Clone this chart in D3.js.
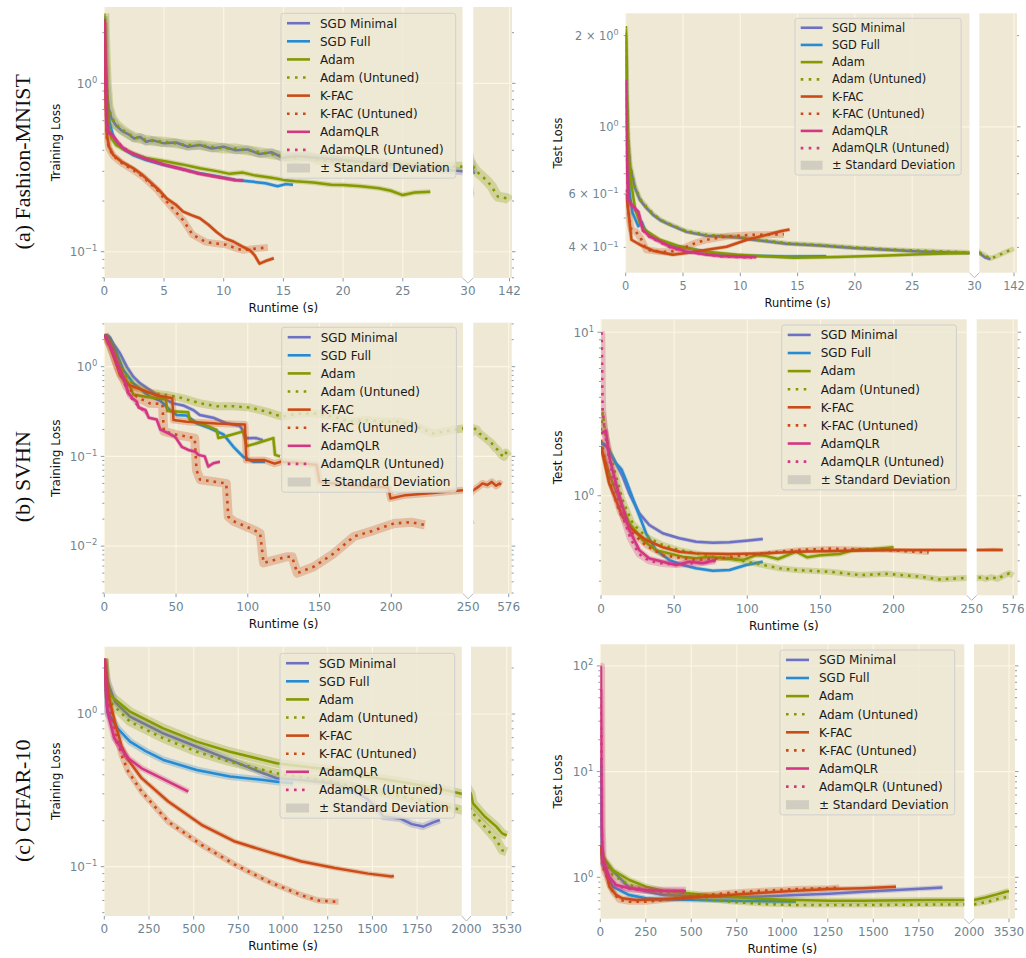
<!DOCTYPE html>
<html>
<head>
<meta charset="utf-8">
<script src="https://cdn.jsdelivr.net/npm/d3@7/dist/d3.min.js"></script>
<style>
body { margin: 0; background: #fff; }
svg { display: block; }
</style>
</head>
<body>
<script>
// legend order, also the order every panel array follows
const methods = ["SGD Minimal", "SGD Full", "Adam", "Adam (Untuned)", "K-FAC", "K-FAC (Untuned)", "AdamQLR", "AdamQLR (Untuned)"];
const methodColors = ["#6C71C4", "#268BD2", "#859900", "#859900", "#CB4B16", "#CB4B16", "#D33682", "#D33682"];
const methodDotted = [false, false, false, true, false, true, false, true];

const rowLabels = ["(a) Fashion-MNIST", "(b) SVHN", "(c) CIFAR-10"];

// x ticks: main part, then [break value, last value]
const fmnistXTicks = [0, 5, 10, 15, 20, 25];
const fmnistXBreak = [30, 142];
const svhnXTicks = [0, 50, 100, 150, 200];
const svhnXBreak = [250, 576];
const cifarXTicks = [0, 250, 500, 750, 1000, 1250, 1500, 1750];
const cifarXBreak = [2000, 3530];
const fmnistTestYTicks = [0.4, 0.6, 1, 2];

// [runtime (s), loss] per method
const fmnistTrain = [
  [[0,2.5],[0.1,1.4],[0.2,0.95],[0.35,0.72],[0.6,0.62],[1,0.56],[1.5,0.52],[2,0.5],[2.5,0.47],[3,0.48],[3.5,0.45],[4,0.46],[5,0.44],[6,0.445],[7,0.42],[8,0.43],[9,0.41],[10,0.42],[11,0.4],[12,0.405],[13,0.38],[14,0.39],[15,0.36],[16,0.37],[18,0.36],[20,0.35],[22,0.34],[24,0.33],[26,0.32],[28,0.31],[30,0.3],[33,0.29]],
  [[0,2.4],[0.1,1.3],[0.25,0.75],[0.4,0.6],[0.7,0.5],[1,0.45],[1.5,0.41],[2.4,0.375],[3.5,0.35],[5,0.327],[6.5,0.31],[8,0.292],[9.5,0.28],[11,0.267],[12.5,0.26],[13.5,0.255],[14.5,0.245],[15.2,0.252],[15.8,0.25]],
  [[0,2.5],[0.1,1.2],[0.2,0.75],[0.35,0.55],[0.6,0.47],[1,0.43],[1.5,0.41],[2.4,0.384],[3.5,0.36],[5.2,0.343],[6.5,0.33],[8,0.313],[9.5,0.3],[10.5,0.29],[11.6,0.295],[12.5,0.285],[14,0.275],[15,0.267],[16,0.262],[17.5,0.258],[19,0.25],[20,0.249],[21.5,0.245],[23,0.238],[24,0.23],[25,0.217],[26,0.225],[27.3,0.227]],
  [[0,2.6],[0.1,1.5],[0.2,1],[0.35,0.73],[0.6,0.63],[1,0.57],[1.5,0.53],[2,0.5],[2.5,0.48],[3,0.47],[4,0.455],[5,0.45],[6,0.44],[7,0.43],[8,0.43],[9,0.42],[10,0.41],[11,0.41],[12,0.4],[13,0.39],[14,0.38],[15,0.37],[16,0.36],[17,0.37],[18,0.35],[20,0.345],[22,0.34],[24,0.33],[26,0.33],[28,0.32],[30,0.32],[40,0.3],[59,0.279],[75,0.26],[88,0.243],[100,0.22],[107,0.212],[120,0.21],[136,0.207],[142,0.2]],
  [[0,2.3],[0.1,0.9],[0.2,0.5],[0.4,0.42],[0.76,0.375],[1.5,0.34],[2.43,0.313],[3.2,0.285],[3.83,0.26],[4.5,0.235],[5.23,0.207],[6,0.19],[6.6,0.173],[7.3,0.165],[8,0.158],[8.7,0.145],[9.4,0.131],[10.1,0.12],[10.8,0.115],[11.5,0.108],[12.2,0.102],[12.6,0.095],[13,0.085],[13.5,0.088],[14.2,0.0915]],
  [[0,2.3],[0.1,0.85],[0.2,0.48],[0.4,0.41],[0.76,0.37],[1.5,0.335],[2.43,0.305],[3.2,0.28],[3.83,0.255],[4.5,0.23],[5.23,0.198],[5.9,0.175],[6.6,0.154],[7.4,0.126],[8.5,0.114],[9.3,0.112],[10.2,0.11],[11,0.105],[11.6,0.102],[12.5,0.104],[13.7,0.106]],
  [[0,2.4],[0.1,1.1],[0.2,0.6],[0.3,0.52],[0.6,0.5],[0.9,0.47],[1.3,0.43],[1.8,0.4],[2.4,0.384],[3.5,0.355],[5,0.33],[6.5,0.31],[8,0.29],[9.5,0.278],[10.8,0.267],[11.65,0.265]],
  [[0,2.4],[0.1,1],[0.2,0.58],[0.3,0.51],[0.6,0.49],[1,0.46],[1.5,0.42],[2.4,0.38],[5,0.328],[8,0.29],[11,0.266]]
];

const fmnistTest = [
  [[0,2],[0.1,1.2],[0.2,0.9],[0.38,0.74],[0.8,0.63],[1.25,0.574],[1.8,0.54],[2.4,0.512],[3.1,0.49],[3.87,0.475],[5.32,0.45],[7.07,0.437],[9.7,0.432],[11.1,0.424],[14.05,0.411],[16.95,0.406],[19.9,0.398],[22.8,0.393],[25.7,0.388],[30,0.383],[50,0.37],[66,0.366]],
  [[0,2.05],[0.1,1.1],[0.2,0.75],[0.35,0.6],[0.6,0.52],[1.1,0.47],[1.4,0.485],[1.7,0.455],[2.4,0.435],[3.5,0.41],[5.3,0.398],[8.2,0.38],[11.1,0.375],[14,0.373],[17.5,0.374]],
  [[0,2.1],[0.1,1.3],[0.2,0.9],[0.38,0.685],[0.84,0.532],[1.25,0.481],[1.83,0.452],[3,0.424],[4.7,0.403],[6.8,0.388],[9.7,0.378],[12.6,0.373],[14.6,0.37],[18.4,0.372],[22.8,0.376],[25.7,0.38],[28,0.382],[30,0.383]],
  [[0,2.15],[0.1,1.25],[0.2,0.92],[0.38,0.75],[0.8,0.635],[1.25,0.578],[1.8,0.545],[2.4,0.515],[3.1,0.492],[3.87,0.477],[5.32,0.452],[7.07,0.44],[9.7,0.433],[11.1,0.426],[14.05,0.413],[16.95,0.407],[19.9,0.4],[22.8,0.394],[25.7,0.39],[30,0.385],[45,0.378],[60,0.37],[67,0.368],[80,0.372],[100,0.38],[120,0.388],[142,0.396]],
  [[0.05,0.6],[0.25,0.52],[0.5,0.424],[1.25,0.408],[2.4,0.39],[4.1,0.378],[5.3,0.383],[7.1,0.393],[8.8,0.402],[10.6,0.424],[12.3,0.44],[13.5,0.452],[14.3,0.458]],
  [[0.05,0.62],[0.3,0.5],[0.5,0.457],[0.9,0.45],[1.3,0.43],[1.8,0.393],[2.8,0.388],[3.9,0.386],[5.3,0.402],[6.2,0.415],[7.1,0.424],[8.8,0.435],[11.1,0.44],[13.8,0.442]],
  [[0,1.43],[0.1,0.8],[0.2,0.574],[0.67,0.545],[1.1,0.525],[1.5,0.457],[2.1,0.435],[3.9,0.402],[5.3,0.388],[6.8,0.38],[8.2,0.375],[11.4,0.371]],
  [[0,1.4],[0.1,0.78],[0.2,0.57],[0.67,0.54],[1.1,0.52],[1.5,0.455],[2.1,0.433],[3.9,0.4],[5.3,0.387],[8.2,0.374],[11,0.37]]
];

const svhnTrain = [
  [[0,2.26],[3,2.2],[6.3,1.8],[10.9,1.41],[15.6,1],[20.2,0.774],[24.9,0.653],[31.8,0.55],[37,0.48],[43.4,0.425],[48,0.39],[55,0.37],[62,0.328],[66.5,0.29],[75.8,0.27],[85,0.234],[94.4,0.22],[96,0.2],[98.9,0.159],[105.9,0.16],[110.5,0.152]],
  [[0,2.26],[4,2.1],[8.6,1.41],[13.3,0.918],[20.2,0.653],[31.8,0.463],[38.8,0.42],[45.8,0.328],[50.4,0.29],[57.4,0.285],[64.4,0.234],[73.7,0.205],[83,0.176],[90,0.128],[96.9,0.099],[104,0.087],[112,0.087]],
  [[0,2.25],[4,1.8],[8,1.2],[13.2,0.8],[17.9,0.6],[20.2,0.49],[30,0.46],[38.8,0.445],[43,0.43],[44,0.32],[58.5,0.31],[59.7,0.25],[70,0.225],[78.3,0.197],[79.5,0.16],[85,0.168],[96.9,0.19],[99.2,0.13],[106.2,0.14],[117.8,0.16],[119,0.104],[122.5,0.1]],
  [[0,2.26],[5,1.7],[10,1.15],[15,0.82],[20,0.63],[30,0.52],[40,0.49],[43.5,0.484],[55,0.444],[66.8,0.39],[78.4,0.362],[90,0.362],[101.6,0.35],[113,0.315],[120,0.29],[124.8,0.277],[130,0.29],[136.4,0.3],[148,0.3],[159.6,0.277],[171,0.244],[182.8,0.254],[194,0.244],[206,0.244],[217.6,0.215],[229,0.18],[241,0.195],[250,0.205],[280,0.2],[307,0.18],[335,0.17],[363,0.159],[390,0.15],[420,0.14],[450,0.125],[477,0.118],[505,0.105],[533,0.099],[550,0.11],[562,0.105],[576,0.1]],
  [[0,2.25],[4,1.7],[8,1.1],[11,0.8],[15.8,0.64],[25,0.56],[36.3,0.48],[47.4,0.444],[48.2,0.254],[57.4,0.244],[78.4,0.232],[98,0.226],[99,0.091],[111.7,0.091],[118.7,0.083],[123,0.087],[135,0.085],[148,0.08],[150,0.052],[170,0.048],[198,0.045],[199.5,0.034],[210,0.037],[229,0.039],[250,0.042],[300,0.046],[335,0.05],[380,0.048],[420,0.052],[460,0.047],[491,0.05],[505,0.048]],
  [[0,2.25],[3,1.9],[6.3,1.41],[10,0.95],[15.8,0.6],[22.7,0.46],[31.8,0.39],[40.5,0.385],[41.5,0.19],[50,0.175],[63,0.16],[64.3,0.07],[66.8,0.055],[85,0.05],[86.4,0.0213],[90,0.019],[104,0.0152],[108.6,0.0139],[111,0.0065],[127,0.0076],[130.9,0.0076],[134.5,0.005],[146,0.0059],[160,0.0083],[174,0.0128],[188,0.015],[202,0.0179],[214,0.0185],[223.5,0.0172]],
  [[0,2.26],[5,1.6],[10,1],[14,0.7],[17,0.5],[20,0.44],[22.5,0.41],[24,0.35],[28.6,0.33],[31,0.27],[36.5,0.258],[39,0.2],[44.8,0.18],[49.4,0.165],[54,0.128],[58.6,0.118],[63.3,0.113],[65.6,0.104],[70,0.1],[72.5,0.077],[76,0.084],[80.6,0.087]],
  [[0,2.26],[5,1.55],[10,0.95],[14,0.68],[17,0.48],[20,0.43],[24,0.36],[30,0.3]]
];

const svhnTest = [
  [[0,2.1],[1.1,2.09],[4,2],[7.9,1.73],[14.8,1.31],[19.4,1.03],[26.2,0.78],[33,0.662],[42.2,0.589],[53.6,0.549],[65,0.523],[76.4,0.515],[87.8,0.52],[99.2,0.53],[110.6,0.543]],
  [[0,2.1],[4,2],[10.2,1.58],[12.5,1.5],[14,1.45],[17,1.25],[23.9,0.856],[30.8,0.589],[37.6,0.465],[46.7,0.404],[55.8,0.377],[65,0.36],[76.4,0.348],[87.8,0.351],[99.2,0.377],[110.6,0.395]],
  [[0,2],[5.6,1.37],[12.5,0.94],[19.4,0.678],[28.5,0.536],[37.6,0.465],[46.7,0.444],[55.8,0.424],[65,0.415],[74,0.424],[83.2,0.415],[96.9,0.404],[106,0.433],[112,0.43],[121,0.41],[133.4,0.455],[141,0.42],[149.8,0.433],[163,0.44],[172.6,0.465],[185,0.47],[200,0.484]],
  [[0,2.5],[1.2,3.2],[3,2.4],[7.9,1.58],[14.8,0.94],[21.6,0.678],[30.8,0.561],[42.2,0.5],[53.6,0.465],[65,0.444],[76.4,0.424],[87.8,0.415],[99.2,0.395],[110.6,0.377],[122,0.36],[133.4,0.351],[156.2,0.343],[177,0.327],[195,0.333],[218,0.32],[231.6,0.308],[250,0.314],[290,0.316],[330,0.31],[380,0.318],[435,0.31],[490,0.325],[541,0.335],[576,0.325]],
  [[0,2],[5.6,1.19],[10.2,0.94],[14.8,0.744],[21.6,0.617],[30.8,0.536],[42.2,0.484],[53.6,0.454],[65,0.444],[87.8,0.44],[110.6,0.444],[133.4,0.454],[179,0.463],[202,0.465],[250,0.466],[300,0.466],[400,0.467],[483,0.466]],
  [[0,2.2],[5.6,1.25],[12.5,0.8],[19.4,0.617],[30.8,0.494],[42.2,0.433],[55.8,0.415],[65,0.404],[83.2,0.415],[96.9,0.433],[110.6,0.444],[133.4,0.465],[156,0.475],[172.6,0.472],[195,0.465],[224,0.45]],
  [[0,2.4],[3.4,2.5],[5.6,1.73],[10.2,1.19],[14.8,0.856],[19.4,0.617],[26.2,0.465],[33,0.414],[42.2,0.395],[51.3,0.377],[60.4,0.395],[69.5,0.386],[78.6,0.404]],
  [[0,10],[0.5,9.8],[1.1,3.35],[2.5,2.5],[5,1.8],[10,1.1],[15,0.75],[20,0.55],[26,0.44],[33,0.4],[42,0.385],[51,0.38],[60,0.385],[70,0.39],[78,0.4]]
];

const cifarTrain = [
  [[0,2.3],[20,1.6],[60,1.2],[144,0.96],[330,0.747],[517,0.61],[703,0.5],[890,0.409],[964,0.38],[1100,0.37],[1281,0.352],[1400,0.31],[1467,0.28],[1530,0.24],[1560,0.213],[1654,0.207],[1720,0.19],[1784,0.183],[1840,0.195],[1877,0.202]],
  [[0,2.2],[10,1.3],[18,1.03],[74,0.806],[144,0.659],[237,0.566],[330,0.5],[517,0.43],[703,0.389],[890,0.37],[964,0.36],[1057,0.352]],
  [[0,2.3],[4,1.71],[32,1.33],[144,1.035],[330,0.806],[517,0.659],[703,0.566],[890,0.5],[964,0.476],[1100,0.455],[1281,0.43],[1467,0.39],[1654,0.36],[1840,0.33],[2000,0.3],[2087,0.26],[2587,0.213],[3088,0.183],[3339,0.165],[3530,0.16]],
  [[0,2.3],[4,1.62],[32,1.2],[144,0.89],[330,0.693],[517,0.566],[703,0.487],[890,0.43],[964,0.409],[1281,0.36],[1467,0.32],[1654,0.29],[1840,0.26],[2000,0.235],[2087,0.223],[2587,0.183],[3088,0.15],[3339,0.128],[3530,0.125]],
  [[0,2.3],[22,1.33],[59,0.89],[96,0.62],[134,0.5],[209,0.38],[358,0.267],[544,0.188],[731,0.146],[917,0.125],[1104,0.108],[1290,0.098],[1476,0.09],[1607,0.0862],[1620,0.087]],
  [[0,2.3],[22,1.25],[59,0.806],[96,0.539],[134,0.42],[209,0.31],[358,0.197],[544,0.139],[731,0.103],[917,0.08],[1104,0.065],[1200,0.06],[1290,0.059],[1310,0.059]],
  [[0,2.3],[4,1.71],[18,1.03],[56,0.693],[134,0.513],[209,0.441],[302,0.389],[395,0.343],[470,0.31]],
  [[0,2.3],[10,1.4],[30,0.95],[60,0.68],[100,0.56],[134,0.51]]
];

const cifarTest = [
  [[0,2],[13,1.55],[68,1.15],[159,0.8],[343,0.68],[526,0.665],[709,0.647],[892,0.66],[1075,0.68],[1258,0.7],[1442,0.73],[1625,0.76],[1808,0.787],[1880,0.8]],
  [[0,13.4],[4,5],[8,2],[13,1.35],[68,0.815],[159,0.68],[251,0.633],[343,0.62],[526,0.61],[709,0.6],[892,0.595],[1075,0.59]],
  [[0,2],[13,1.57],[68,1.17],[159,0.943],[251,0.815],[343,0.747],[526,0.695],[709,0.655],[892,0.623],[1075,0.61],[1258,0.6],[1442,0.6],[1808,0.61],[2000,0.61],[2500,0.645],[3000,0.69],[3381,0.73],[3530,0.74]],
  [[0,2],[13,1.5],[68,1.05],[159,0.846],[251,0.758],[343,0.706],[526,0.633],[709,0.588],[892,0.56],[1075,0.547],[1442,0.547],[2000,0.555],[2500,0.58],[3000,0.62],[3381,0.647],[3530,0.65]],
  [[0,2],[13,1.57],[50,0.815],[87,0.68],[123,0.633],[196,0.61],[343,0.62],[526,0.647],[709,0.68],[892,0.715],[1075,0.747],[1258,0.775],[1442,0.79],[1625,0.815]],
  [[0,2],[20,1.17],[68,0.73],[105,0.61],[159,0.588],[251,0.588],[343,0.61],[526,0.665],[709,0.715],[892,0.747],[1075,0.775],[1258,0.79],[1313,0.8]],
  [[0,98],[4,98],[6,10],[8,3],[13,1.46],[50,1.01],[87,0.846],[159,0.787],[251,0.758],[343,0.747],[471,0.747]],
  [[0,60],[5,20],[8,3],[13,1.4],[50,0.98],[87,0.83],[159,0.78],[251,0.75],[343,0.74],[460,0.74]]
];

const bgColor = "#EEE8D5";
const gridColor = "#FDF6E3";
const tickColor = "#6f8490";

let svg = d3.select("body").append("svg")
    .attr("width", 1026)
    .attr("height", 958)
    .style("font-family", "'DejaVu Sans', sans-serif");
let defs = svg.append("defs");

// band: width of the ± std deviation halo for each method (pixels)
let panels = [
    {id: "p1", data: fmnistTrain, ticks: fmnistXTicks, brk: fmnistXBreak, ylabel: "Training Loss", yDomain: [0.0698, 2.84],
     box: {left: 104.3, mainRight: 462.5, segLeft: 473.3, right: 512, top: 7, bottom: 278, endPad: 2.5},
     legend: [281, 13.3], fs: 1, ylx: 59.5, band: [8, 4, 5, 10, 4, 7, 4, 4]},
    {id: "p2", data: fmnistTest, ticks: fmnistXTicks, brk: fmnistXBreak, ylabel: "Test Loss", yDomain: [0.33, 2.37], yTicks: fmnistTestYTicks,
     box: {left: 625.7, mainRight: 969.5, segLeft: 979.3, right: 1017, top: 13.3, bottom: 272.7, endPad: 3},
     legend: [795, 18.3], fs: 0.95, ylx: 562, band: [4, 4, 4, 5, 4, 7, 4, 4]},
    {id: "p3", data: svhnTrain, ticks: svhnXTicks, brk: svhnXBreak, ylabel: "Training Loss", yDomain: [0.00295, 3.09],
     box: {left: 104.3, mainRight: 463, segLeft: 473.3, right: 511.7, top: 322.7, bottom: 593.7, endPad: 3},
     legend: [281.7, 327.3], fs: 1, ylx: 59.5, band: [4, 4, 4, 8, 7, 9, 4, 4]},
    {id: "p4", data: svhnTest, ticks: svhnXTicks, brk: svhnXBreak, ylabel: "Test Loss", yDomain: [0.246, 12],
     box: {left: 601, mainRight: 966.7, segLeft: 976.7, right: 1017.7, top: 319.3, bottom: 595.3, endPad: 4.5},
     legend: [781.7, 325], fs: 1, ylx: 562, band: [4, 4, 5, 6, 4, 5, 5, 7]},
    {id: "p5", data: cifarTrain, ticks: cifarXTicks, brk: cifarXBreak, ylabel: "Training Loss", yDomain: [0.0475, 2.76],
     box: {left: 104.3, mainRight: 461.8, segLeft: 471, right: 511.7, top: 646.7, bottom: 916, endPad: 5},
     legend: [280, 653.3], fs: 1, ylx: 59.5, band: [7, 7, 9, 9, 5, 6, 6, 5]},
    {id: "p6", data: cifarTest, ticks: cifarXTicks, brk: cifarXBreak, ylabel: "Test Loss", yDomain: [0.406, 160],
     box: {left: 600.3, mainRight: 964.3, segLeft: 974, right: 1015, top: 644.3, bottom: 918.7, endPad: 6},
     legend: [780, 650], fs: 1, ylx: 562, band: [5, 5, 6, 5, 5, 6, 8, 6]}
];

// "10^e" or "m × 10^e" as a text with a raised exponent
function powLabel(g, v, x, y, size) {
    let e = Math.floor(Math.log10(v) + 1e-9);
    let m = Math.round(v / Math.pow(10, e));
    let t = g.append("text")
        .attr("x", x).attr("y", y + size * 0.36)
        .attr("text-anchor", "end")
        .attr("fill", tickColor)
        .attr("font-size", size);
    t.append("tspan").text(m === 1 ? "10" : m + " \u00d7 10");
    t.append("tspan").attr("dy", -size * 0.42).attr("font-size", size * 0.7)
        .text(e < 0 ? "\u2212" + (-e) : String(e));
}

function drawPanel(p) {
    let b = p.box;
    let g = svg.append("g");
    let fs = 12 * p.fs;

    let xMain = d3.scaleLinear().domain([0, p.brk[0]]).range([b.left, b.mainRight]);
    let xSeg = d3.scaleLinear().domain(p.brk).range([b.segLeft, b.right - b.endPad]);
    let y = d3.scaleLog().domain(p.yDomain).range([b.bottom, b.top]);

    // two backgrounds with the white break between them
    [[b.left, b.mainRight], [b.segLeft, b.right]].forEach(function(r){
        g.append("rect").attr("x", r[0]).attr("y", b.top)
            .attr("width", r[1] - r[0]).attr("height", b.bottom - b.top)
            .attr("fill", bgColor);
    });

    // major / minor log ticks
    let lo = Math.floor(Math.log10(p.yDomain[0])), hi = Math.ceil(Math.log10(p.yDomain[1]));
    let majors = [], minors = [];
    for (let e = lo; e <= hi; e++) {
        for (let m = 1; m < 10; m++) {
            let v = m * Math.pow(10, e);
            if (v < p.yDomain[0] || v > p.yDomain[1]) continue;
            if (m === 1) majors.push(v); else minors.push(v);
        }
    }

    // grid
    majors.forEach(function(v){
        [[b.left, b.mainRight], [b.segLeft, b.right]].forEach(function(r){
            g.append("line").attr("x1", r[0]).attr("x2", r[1])
                .attr("y1", y(v)).attr("y2", y(v))
                .attr("stroke", gridColor).attr("stroke-width", 1.1);
        });
    });
    p.ticks.forEach(function(t){
        g.append("line").attr("x1", xMain(t)).attr("x2", xMain(t))
            .attr("y1", b.top).attr("y2", b.bottom)
            .attr("stroke", gridColor).attr("stroke-width", 1.1);
    });
    g.append("line").attr("x1", xSeg(p.brk[1])).attr("x2", xSeg(p.brk[1]))
        .attr("y1", b.top).attr("y2", b.bottom)
        .attr("stroke", gridColor).attr("stroke-width", 1.1);

    // clip paths for the two parts of the x axis
    let parts = [[xMain, b.left, b.mainRight], [xSeg, b.segLeft, b.right]];
    parts.forEach(function(part, k){
        defs.append("clipPath").attr("id", p.id + "c" + k)
            .append("rect").attr("x", part[1]).attr("y", b.top)
            .attr("width", part[2] - part[1]).attr("height", b.bottom - b.top);
    });

    parts.forEach(function(part, k){
        let layer = g.append("g").attr("clip-path", "url(#" + p.id + "c" + k + ")");
        let line = d3.line().x((d)=>part[0](d[0])).y((d)=>y(d[1]));
        p.data.forEach(function(pts, i){
            // ± standard deviation band
            layer.append("path").attr("d", line(pts))
                .attr("fill", "none")
                .attr("stroke", methodColors[i])
                .attr("stroke-opacity", 0.28)
                .attr("stroke-width", p.band[i])
                .attr("stroke-linejoin", "round");
            layer.append("path").attr("d", line(pts))
                .attr("fill", "none")
                .attr("stroke", methodColors[i])
                .attr("stroke-width", methodDotted[i] ? 2.6 : 2.5)
                .attr("stroke-dasharray", methodDotted[i] ? "2.6,5" : null)
                .attr("stroke-linejoin", "round");
        });
    });

    // y ticks on left of main part and right of the last part
    let labelled = p.yTicks || majors;
    majors.concat(minors).forEach(function(v){
        let len = majors.indexOf(v) >= 0 ? 3.5 : 2;
        g.append("line").attr("x1", b.left - len).attr("x2", b.left)
            .attr("y1", y(v)).attr("y2", y(v))
            .attr("stroke", tickColor).attr("stroke-width", 0.8);
        g.append("line").attr("x1", b.right).attr("x2", b.right + len)
            .attr("y1", y(v)).attr("y2", y(v))
            .attr("stroke", tickColor).attr("stroke-width", 0.8);
    });
    labelled.forEach(function(v){
        powLabel(g, v, b.left - 7, y(v), fs);
    });

    // x ticks
    function xTick(px, label) {
        g.append("line").attr("x1", px).attr("x2", px)
            .attr("y1", b.bottom).attr("y2", b.bottom + 3.5)
            .attr("stroke", tickColor).attr("stroke-width", 0.8);
        g.append("text").attr("x", px).attr("y", b.bottom + 13 + fs * 0.36)
            .attr("text-anchor", "middle").attr("fill", tickColor)
            .attr("font-size", fs).text(label);
    }
    p.ticks.forEach((t)=>xTick(xMain(t), t));
    let gapMid = (b.mainRight + b.segLeft) / 2;
    g.append("text").attr("x", gapMid).attr("y", b.bottom + 13 + fs * 0.36)
        .attr("text-anchor", "middle").attr("fill", tickColor)
        .attr("font-size", fs).text(p.brk[0]);
    xTick(xSeg(p.brk[1]), p.brk[1]);

    // break mark
    g.append("path")
        .attr("d", `M${b.mainRight},${b.bottom} L${gapMid},${b.bottom + 5} L${b.segLeft},${b.bottom}`)
        .attr("fill", "none").attr("stroke", "#b8b8b8").attr("stroke-width", 1);

    // axis labels
    g.append("text").attr("x", (b.left + b.mainRight) / 2).attr("y", b.bottom + 30 + fs * 0.36)
        .attr("text-anchor", "middle").attr("fill", "#111").attr("font-size", fs)
        .text("Runtime (s)");
    g.append("text")
        .attr("transform", `translate(${p.ylx},${(b.top + b.bottom) / 2}) rotate(-90)`)
        .attr("text-anchor", "middle").attr("fill", "#111").attr("font-size", fs)
        .text(p.ylabel);

    drawLegend(g, p);
}

function drawLegend(g, p) {
    let fs = 12 * p.fs;
    let rowH = 18.1 * p.fs;
    let lx = p.legend[0], ly = p.legend[1];
    let lg = g.append("g");
    let frame = lg.append("rect").attr("x", lx).attr("y", ly)
        .attr("rx", 2.5).attr("height", rowH * 9 + 2)
        .attr("fill", bgColor).attr("fill-opacity", 0.8)
        .attr("stroke", "#cfcfcf").attr("stroke-width", 1);

    let labels = methods.concat(["\u00b1 Standard Deviation"]);
    let maxW = 0;
    labels.forEach(function(name, i){
        let cy = ly + rowH * 0.52 + 0.5 + i * rowH;
        if (i < methods.length) {
            lg.append("line").attr("x1", lx + 6 * p.fs).attr("x2", lx + 29 * p.fs)
                .attr("y1", cy).attr("y2", cy)
                .attr("stroke", methodColors[i]).attr("stroke-width", 2.6)
                .attr("stroke-dasharray", methodDotted[i] ? "2.6,5.4" : null);
        } else {
            lg.append("rect").attr("x", lx + 6 * p.fs).attr("y", cy - 4.5)
                .attr("width", 23 * p.fs).attr("height", 9)
                .attr("fill", "#9a9a9a").attr("fill-opacity", 0.35);
        }
        let t = lg.append("text").attr("x", lx + 39 * p.fs).attr("y", cy + fs * 0.36)
            .attr("fill", "#1a1a1a").attr("font-size", fs).text(name);
        maxW = Math.max(maxW, t.node().getComputedTextLength());
    });
    frame.attr("width", 39 * p.fs + maxW + 6);
}

panels.forEach(drawPanel);

// row labels on the left
[161.7, 476.7, 800.8].forEach(function(cy, i){
    svg.append("text")
        .attr("transform", `translate(30,${cy}) rotate(-90)`)
        .attr("text-anchor", "middle")
        .attr("font-family", "'Liberation Serif', 'Times New Roman', serif")
        .attr("font-size", 22)
        .attr("fill", "#111")
        .text(rowLabels[i]);
});
</script>
</body>
</html>
